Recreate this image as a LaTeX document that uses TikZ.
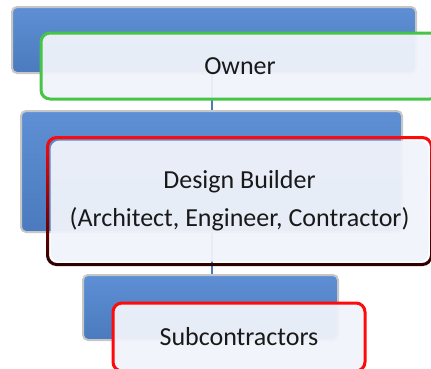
\documentclass[tikz,border=0pt]{standalone}
\usepackage{fontspec}
\setmainfont{Carlito}
\usetikzlibrary{positioning}

\definecolor{barTop}{HTML}{5E8FD4}
\definecolor{barBot}{HTML}{4B7BBE}
\definecolor{linkBlue}{HTML}{4A7BBE}
\definecolor{cardFill}{HTML}{F0F3FA}
\definecolor{ownerGreen}{HTML}{46C446}
\definecolor{dbRed}{HTML}{FF0A0A}
\definecolor{dbDark}{HTML}{2A0000}

\tikzset{
  bar/.style={draw=gray!45, line width=2pt, rounded corners=5pt,
    top color=barTop, bottom color=barBot},
  card/.style={fill=cardFill, fill opacity=0.95, text opacity=1,
    rounded corners=9pt, line width=3pt, align=center, text=black!90,
    font=\fontsize{26}{38}\selectfont},
  link/.style={draw=linkBlue, line width=2pt}
}

\begin{document}
\begin{tikzpicture}[x=1pt,y=-1pt]
  \useasboundingbox (0,0) rectangle (431,368);
  \clip (0,0) rectangle (431,368);
  % blue bars behind the cards
  \node[bar, minimum width=404pt, minimum height=66pt] (ownerBar)   at (214,40) {};
  \node[bar, minimum width=381pt, minimum height=121pt] (builderBar) at (211.5,171.5) {};
  \node[bar, minimum width=255pt, minimum height=65pt] (subBar)     at (210.5,307.5) {};
  % links
  \path[link]
    ([xshift=-2pt]ownerBar.south) edge ([xshift=0.5pt]builderBar.north)
    ([xshift=0.5pt]builderBar.south) edge ([xshift=1.5pt]subBar.north);
  % cards
  \node[card, draw=ownerGreen, minimum width=398pt, minimum height=66pt] (owner) at (240,66) {Owner};
  \node[card, minimum width=378pt, minimum height=121pt] (builder) at (239.5,201)
    {Design Builder\\(Architect, Engineer, Contractor)};
  \shade[top color=dbRed, bottom color=dbDark, even odd rule, rounded corners=10.5pt]
    ([shift={(-3pt,3pt)}]builder.north west) rectangle ([shift={(3pt,-3pt)}]builder.south east)
    [rounded corners=8pt] (builder.north west) rectangle (builder.south east);
  \node[card, draw=dbRed, minimum width=252pt, minimum height=68pt] (sub) at (239,337) {Subcontractors};
\end{tikzpicture}
\end{document}
